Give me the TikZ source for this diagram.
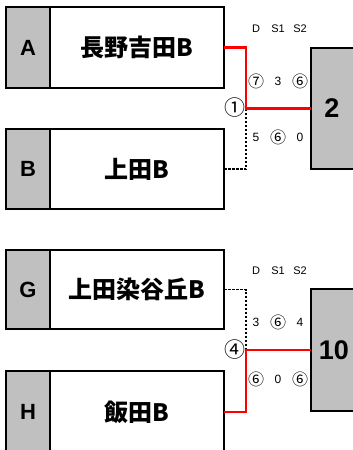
\documentclass[tikz,border=0pt]{standalone}
\usepackage{fontspec}
\newfontfamily\jp{Noto Sans CJK JP}
\newfontfamily\lat{Liberation Sans}
\definecolor{boxgray}{RGB}{192,192,192}
\definecolor{winred}{RGB}{255,0,0}
\begin{document}
\begin{tikzpicture}[x=1pt,y=-1pt,
  frame/.style={draw=black,line width=1.6pt,rectangle,inner sep=0pt,outer sep=0pt},
  lab/.style={frame,fill=boxgray,minimum width=44pt,font=\lat\bfseries\fontsize{22}{22}\selectfont},
  team/.style={frame,fill=white,minimum width=174pt,font=\jp\bfseries\fontsize{24}{24}\selectfont},
  res/.style={frame,fill=boxgray,minimum width=50pt},
  num/.style={inner sep=0pt,font=\lat\bfseries\fontsize{27}{27}\selectfont},
  hdr/.style={inner sep=0pt,font=\lat\fontsize{11}{11}\selectfont},
  sc/.style={inner sep=0pt,font=\lat\fontsize{12}{12}\selectfont},
  csc/.style={inner sep=0pt,font=\jp\fontsize{16}{16}\selectfont},
  mno/.style={inner sep=0pt,font=\jp\fontsize{21}{21}\selectfont},
  win/.style={draw=winred,line width=2.2pt},
  lose/.style={draw=black,line width=1.2pt,dash pattern=on 2.5pt off 1.5pt}]
\useasboundingbox (0,0) rectangle (353,450);
\clip (0,0) rectangle (353,450);
% top match
\node[lab,minimum height=81pt] (la) at (28,47.5) {A};
\node[team,minimum height=81pt] (ta) at (137,47.5) {長野吉田B};
\node[lab,minimum height=80pt] (lb) at (28,169) {B};
\node[team,minimum height=80pt] (tb) at (137,169) {上田B};
\node[res,minimum height=121pt] (r1) at (336,108.5) {};
\node[num] (n1) at (332,108.5) {2};
\coordinate (m1) at (246,108.5);
\draw[lose] (tb.east) -| (m1);
\draw[win] (ta.east) -| (m1) -- (r1.west);
\node[mno] (c1) at (235,107.5) {①};
\node[hdr] (h1d) at (256,29) {D};
\node[hdr] (h1s) at (278,29) {S1};
\node[hdr] (h1t) at (300,29) {S2};
\node[csc] (a1) at (256,81) {⑦};
\node[sc] (a2) at (278,81) {3};
\node[csc] (a3) at (300,81) {⑥};
\node[sc] (b1) at (256,137) {5};
\node[csc] (b2) at (278,137) {⑥};
\node[sc] (b3) at (300,137) {0};
% bottom match
\node[lab,minimum height=79pt] (lg) at (28,289.5) {G};
\node[team,minimum height=79pt] (tg) at (137,289.5) {上田染谷丘B};
\node[lab,minimum height=82pt] (lh) at (28,412) {H};
\node[team,minimum height=82pt] (th) at (137,412) {飯田B};
\node[res,minimum height=122pt] (r2) at (336,350) {};
\node[num] (n2) at (334,350) {10};
\coordinate (m2) at (246,350);
\draw[lose] (tg.east) -| (m2);
\draw[win] (th.east) -| (m2) -- (r2.west);
\node[mno] (c4) at (235,349.5) {④};
\node[hdr] (h2d) at (256,271) {D};
\node[hdr] (h2s) at (278,271) {S1};
\node[hdr] (h2t) at (300,271) {S2};
\node[sc] (g1) at (256,322) {3};
\node[csc] (g2) at (278,322) {⑥};
\node[sc] (g3) at (300,322) {4};
\node[csc] (i1) at (256,379) {⑥};
\node[sc] (i2) at (278,379) {0};
\node[csc] (i3) at (300,379) {⑥};
\end{tikzpicture}
\end{document}
